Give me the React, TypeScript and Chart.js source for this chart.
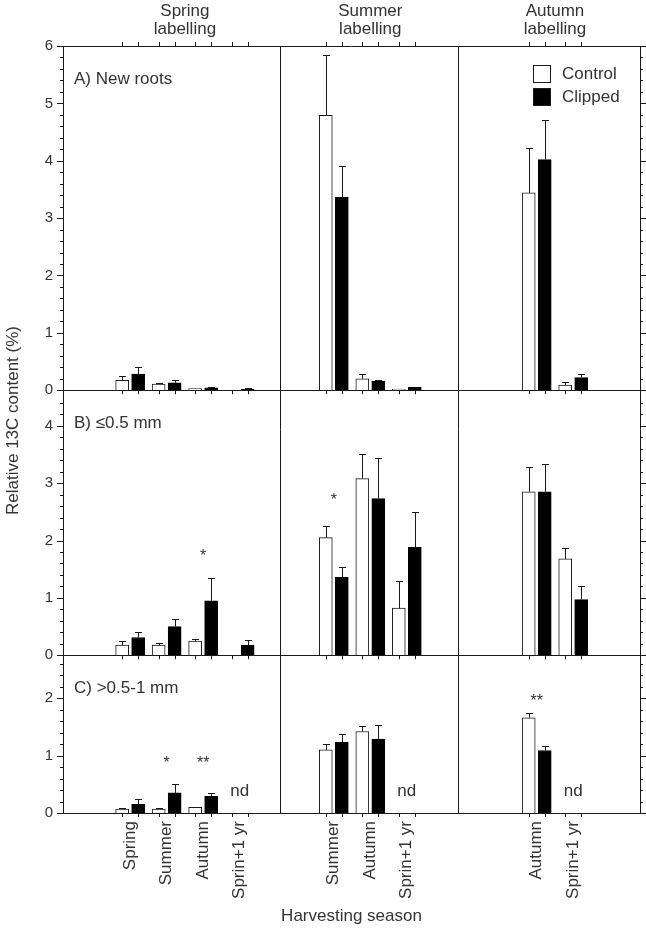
import React, { useEffect, useRef } from 'react';
import { Chart, registerables } from 'chart.js';

Chart.register(...registerables);

// ---------------- data ----------------
const labellingTitles = ['Spring labelling', 'Summer labelling', 'Autumn labelling'];
const harvestSpringLabelling = ['Spring', 'Summer', 'Autumn', 'Sprin+1 yr'];
const harvestSummerLabelling = ['Summer', 'Autumn', 'Sprin+1 yr'];
const harvestAutumnLabelling = ['Autumn', 'Sprin+1 yr'];
const seriesNames = ['Control', 'Clipped'];
const panelTitles = ['A) New roots', 'B) \u22640.5 mm', 'C) >0.5-1 mm'];
const xTitle = 'Harvesting season';
const yTitle = 'Relative 13C content (%)';

// group order: spring labelling (4), summer labelling (3), autumn labelling (2)
const newRootsControl = [0.17, 0.105, 0.03, null, 4.79, 0.2, 0.02, 3.44, 0.09];
const newRootsControlErr = [0.07, 0.025, 0.0, null, 1.06, 0.08, 0.0, 0.78, 0.06];
const newRootsClipped = [0.28, 0.13, 0.04, 0.02, 3.36, 0.16, 0.05, 4.02, 0.22];
const newRootsClippedErr = [0.13, 0.04, 0.01, 0.01, 0.55, 0.02, 0.0, 0.69, 0.06];

const fineControl = [0.175, 0.175, 0.245, null, 2.05, 3.08, 0.82, 2.85, 1.68];
const fineControlErr = [0.07, 0.04, 0.04, null, 0.21, 0.43, 0.47, 0.44, 0.19];
const fineClipped = [0.31, 0.5, 0.95, 0.175, 1.36, 2.73, 1.88, 2.85, 0.97];
const fineClippedErr = [0.1, 0.13, 0.39, 0.085, 0.17, 0.71, 0.62, 0.49, 0.24];

const coarseControl = [0.07, 0.07, 0.1, null, 1.1, 1.42, null, 1.66, null];
const coarseControlErr = [0.02, 0.01, 0.01, null, 0.11, 0.09, null, 0.08, null];
const coarseClipped = [0.15, 0.35, 0.29, null, 1.23, 1.29, null, 1.09, null];
const coarseClippedErr = [0.09, 0.15, 0.06, null, 0.15, 0.24, null, 0.07, null];

const yMaxA = 6;
const yMaxB = 4.62;
const yMaxC = 2.75;
const yTicksA = [0, 1, 2, 3, 4, 5, 6];
const yTicksB = [0, 1, 2, 3, 4];
const yTicksC = [0, 1, 2];

// significance / not-determined marks
const markText = ['*', '*', '*', '**', 'nd', 'nd', '**', 'nd'];
const markRow = [1, 1, 2, 2, 2, 2, 2, 2];
const markGroup = [2, 4, 1, 2, 3, 6, 7, 8];
const markValue = [1.8, 2.78, 0.94, 0.94, 0.4, 0.4, 2.02, 0.4];

// ---------------- layout / style ----------------
const COLUMN_START = [1.84, 7.42, 12.98];
const GROUP_STEP = 1;
const X_MAX = 15.81;
const COLUMN_DIVIDERS = [5.95, 10.82];
const FONT = '"Liberation Sans", Arial, Helvetica, sans-serif';
const TEXT = '#333333';
const LINE = '#1a1a1a';

const harvestByColumn = [harvestSpringLabelling, harvestSummerLabelling, harvestAutumnLabelling];
const groupX: number[] = [];
const groupLabels: string[] = [];
const groupColumn: number[] = [];
harvestByColumn.forEach((cats, c) =>
  cats.forEach((lab, k) => {
    groupX.push(COLUMN_START[c] + k * GROUP_STEP);
    groupLabels.push(lab);
    groupColumn.push(c);
  })
);

const rows = [
  { id: 'yA', max: yMaxA, ticks: yTicksA, ctrl: newRootsControl, ctrlErr: newRootsControlErr, clip: newRootsClipped, clipErr: newRootsClippedErr },
  { id: 'yB', max: yMaxB, ticks: yTicksB, ctrl: fineControl, ctrlErr: fineControlErr, clip: fineClipped, clipErr: fineClippedErr },
  { id: 'yC', max: yMaxC, ticks: yTicksC, ctrl: coarseControl, ctrlErr: coarseControlErr, clip: coarseClipped, clipErr: coarseClippedErr },
];

function txt(ctx: CanvasRenderingContext2D, s: string, x: number, y: number, size: number, align: CanvasTextAlign = 'left', baseline: CanvasTextBaseline = 'middle') {
  ctx.save();
  ctx.font = `${size}px ${FONT}`;
  ctx.fillStyle = TEXT;
  ctx.textAlign = align;
  ctx.textBaseline = baseline;
  ctx.fillText(s, x, y);
  ctx.restore();
}

const overlay = {
  id: 'overlay',
  afterDatasetsDraw(chart: any) {
    const { ctx, chartArea: ca, scales } = chart;
    const xs = scales.x;
    const ys = rows.map((r) => scales[r.id]);
    const px = (v: number) => Math.round(v) + 0.5;
    ctx.save();
    ctx.strokeStyle = LINE;
    ctx.lineWidth = 1;

    // error bars
    chart.data.datasets.forEach((ds: any, di: number) => {
      const meta = chart.getDatasetMeta(di);
      const sc = scales[ds.yAxisID];
      meta.data.forEach((el: any, i: number) => {
        const v = ds.data[i].y;
        const e = ds.errors[i];
        if (v == null || e == null || e <= 0) return;
        const yTop = Math.round(sc.getPixelForValue(v + e)) + 0.5;
        const yBar = sc.getPixelForValue(v);
        const cx = px(el.x);
        ctx.beginPath();
        ctx.moveTo(cx, yBar);
        ctx.lineTo(cx, yTop);
        ctx.moveTo(cx - 3.5, yTop);
        ctx.lineTo(cx + 3.5, yTop);
        ctx.stroke();
      });
    });

    // frame
    ctx.beginPath();
    ctx.moveTo(ca.left, px(ca.top));
    ctx.lineTo(ca.right, px(ca.top));
    ctx.moveTo(px(ca.right), ca.top);
    ctx.lineTo(px(ca.right), ca.bottom);
    ctx.moveTo(px(ca.left), ca.top);
    ctx.lineTo(px(ca.left), ca.bottom);
    ctx.moveTo(ca.left, px(ca.bottom));
    ctx.lineTo(ca.right + 1, px(ca.bottom));
    ys.forEach((s: any, i: number) => {
      if (i < ys.length - 1) {
        ctx.moveTo(ca.left, px(s.bottom));
        ctx.lineTo(ca.right + 1, px(s.bottom));
      }
    });
    COLUMN_DIVIDERS.forEach((d) => {
      const dx = px(xs.getPixelForValue(d));
      ctx.moveTo(dx, ca.top);
      ctx.lineTo(dx, ca.bottom);
    });
    ctx.stroke();

    // y ticks, left and right, major every 1, minor every 0.2
    ctx.beginPath();
    ys.forEach((s: any, r: number) => {
      const max = rows[r].max;
      for (let k = 0; k * 0.2 <= max + 1e-9; k++) {
        const v = k * 0.2;
        const y = px(s.getPixelForValue(v));
        if (r > 0 && y < s.top + 6) continue;
        const major = k % 5 === 0;
        const len = major ? 6 : 3;
        ctx.moveTo(ca.left - len, y);
        ctx.lineTo(ca.left, y);
        ctx.moveTo(ca.right, y);
        ctx.lineTo(ca.right + len, y);
      }
    });
    // x ticks at every bar position: top (outward) and under each zero line
    const barX: number[] = [];
    [0, 1].forEach((di) => chart.getDatasetMeta(di).data.forEach((el: any) => barX.push(px(el.x))));
    barX.forEach((bx) => {
      ctx.moveTo(bx, ca.top - 4);
      ctx.lineTo(bx, ca.top);
      ys.forEach((s: any) => {
        ctx.moveTo(bx, s.bottom);
        ctx.lineTo(bx, s.bottom + 4);
      });
    });
    ctx.stroke();

    // column titles
    labellingTitles.forEach((t, c) => {
      const xsOfCol = groupX.filter((_, i) => groupColumn[i] === c).map((v) => xs.getPixelForValue(v));
      const cx = (Math.min(...xsOfCol) + Math.max(...xsOfCol)) / 2;
      const parts = t.split(' ');
      txt(ctx, parts[0], cx, 11, 17, 'center');
      txt(ctx, parts[1], cx, 29, 17, 'center');
    });

    // panel titles
    ys.forEach((s: any, r: number) => txt(ctx, panelTitles[r], ca.left + 11, s.top + 33, 17));

    // legend
    const lx = ca.right - 107;
    chart.data.datasets.slice(0, 2).forEach((ds: any, i: number) => {
      const ly = ca.top + 19 + i * 23;
      ctx.fillStyle = ds.backgroundColor;
      ctx.fillRect(lx, ly, 18, 18);
      ctx.strokeStyle = LINE;
      ctx.strokeRect(lx + 0.5, ly + 0.5, 17, 17);
      txt(ctx, ds.label, lx + 29, ly + 9, 17);
    });

    // marks
    markText.forEach((m, i) => {
      const s = ys[markRow[i]];
      const gx = xs.getPixelForValue(groupX[markGroup[i]]);
      const y = s.getPixelForValue(markValue[i]);
      if (m === 'nd') txt(ctx, m, gx, y + 0.36 * 17, 17, 'center', 'alphabetic');
      else txt(ctx, m, gx, y + 0.57 * 16, 16, 'center', 'alphabetic');
    });

    // y title
    ctx.save();
    ctx.translate(13, (ca.top + ca.bottom) / 2 - 9);
    ctx.rotate(-Math.PI / 2);
    txt(ctx, yTitle, 0, 0, 17, 'center');
    ctx.restore();

    ctx.restore();
  },
};

function yScale(r: any, weight: number) {
  return {
    type: 'linear',
    position: 'left',
    stack: 'rows',
    stackWeight: weight,
    stacked: false,
    min: 0,
    max: r.max,
    afterBuildTicks: (s: any) => {
      s.ticks = r.ticks.map((v: number) => ({ value: v }));
    },
    afterFit: (s: any) => {
      s.width = 63;
    },
    grid: { display: false, drawTicks: false },
    border: { display: false },
    ticks: { font: { size: 15, family: FONT }, color: TEXT, padding: 10, autoSkip: false },
  };
}

export default function App() {
  const ref = useRef<HTMLCanvasElement>(null);
  useEffect(() => {
    const datasets = rows.flatMap((r) => [
      {
        label: seriesNames[0],
        stack: 'ctrl',
        yAxisID: r.id,
        data: groupX.map((x, i) => ({ x, y: r.ctrl[i] })),
        errors: r.ctrlErr,
        backgroundColor: '#ffffff',
        borderColor: LINE,
        borderWidth: 1,
        barThickness: 16,
        maxBarThickness: 13,
      },
      {
        label: seriesNames[1],
        stack: 'clip',
        yAxisID: r.id,
        data: groupX.map((x, i) => ({ x, y: r.clip[i] })),
        errors: r.clipErr,
        backgroundColor: '#000000',
        borderColor: '#000000',
        borderWidth: 1,
        barThickness: 16,
        maxBarThickness: 13,
      },
    ]);
    const chart = new Chart(ref.current as HTMLCanvasElement, {
      type: 'bar',
      data: { datasets } as any,
      options: {
        animation: false,
        responsive: true,
        maintainAspectRatio: false,
        layout: { padding: { left: 0, right: 6, top: 46, bottom: 0 } },
        plugins: { legend: { display: false }, tooltip: { enabled: false } },
        scales: {
          x: {
            type: 'linear',
            offset: false,
            min: 0,
            max: X_MAX,
            afterBuildTicks: (s: any) => {
              s.ticks = groupX.map((v) => ({ value: v }));
            },
            afterFit: (s: any) => {
              s.height = 120;
            },
            grid: { display: false, drawTicks: false, offset: false },
            border: { display: false },
            ticks: {
              autoSkip: false,
              minRotation: 90,
              maxRotation: 90,
              padding: 8,
              font: { size: 17, family: FONT },
              color: TEXT,
              callback: (_v: any, i: number) => groupLabels[i],
            },
            title: {
              display: true,
              text: xTitle,
              font: { size: 17, family: FONT },
              color: TEXT,
              padding: { top: 0, bottom: 6 },
            },
          },
          yC: yScale(rows[2], yMaxC),
          yB: yScale(rows[1], yMaxB),
          yA: yScale(rows[0], yMaxA),
        } as any,
      },
      plugins: [overlay],
    });
    return () => chart.destroy();
  }, []);
  return (
    <div style={{ position: 'absolute', left: 0, top: 0, width: 646, height: 933, background: '#ffffff' }}>
      <canvas ref={ref} />
    </div>
  );
}
